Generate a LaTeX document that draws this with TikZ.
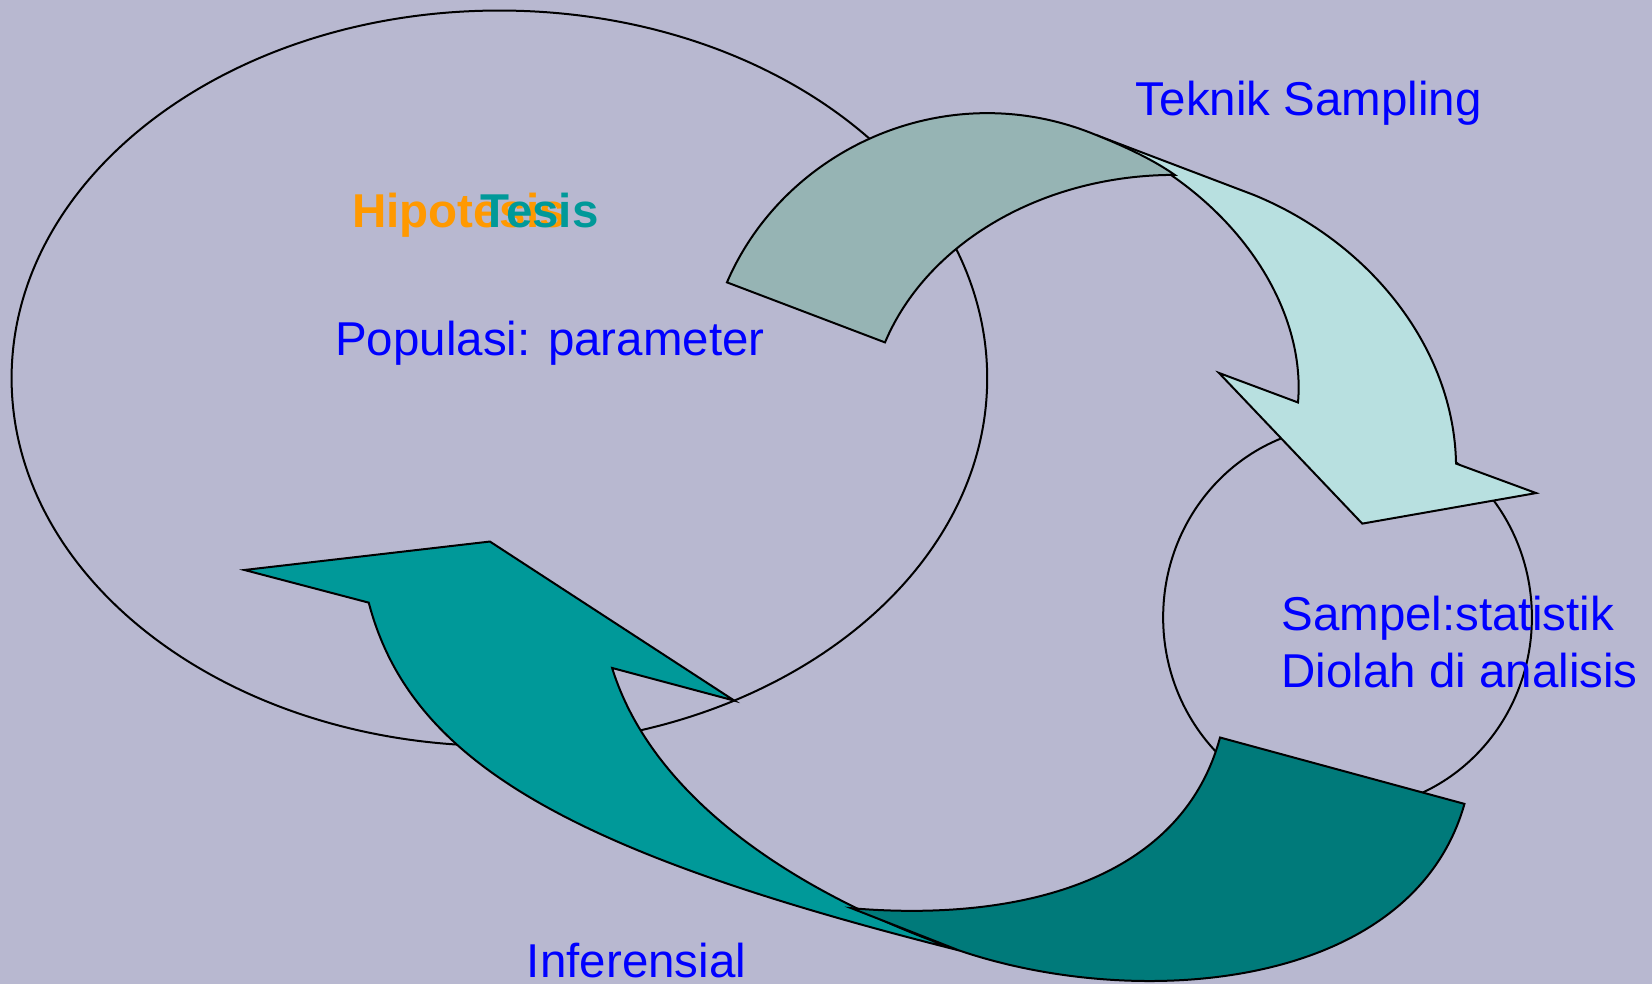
\documentclass[tikz,border=0pt]{standalone}
\usepackage{fontspec}
\setmainfont{Liberation Sans}
\definecolor{bg}{HTML}{B8B8D0}
\definecolor{grayA}{HTML}{96B4B4}
\definecolor{cyanA}{HTML}{B8E0E0}
\definecolor{tealA}{HTML}{009999}
\definecolor{tealB}{HTML}{007A7A}
\definecolor{orangeT}{HTML}{FF9900}
\definecolor{blueT}{HTML}{0000FF}
\tikzset{
  outline/.style={draw=black, line width=2pt},
  arrowshape/.style={draw=black, line width=2pt, line join=miter},
  lbl/.style={anchor=base west, inner sep=0pt, font=\fontsize{47.5}{57}\selectfont},
}
\begin{document}
\begin{tikzpicture}[x=1.0536pt,y=-1.0536pt]
\fill[bg] (0,0) rectangle (1568,934);
\useasboundingbox (0,0) rectangle (1568,934);
% ellipses
\draw[outline] (474,359) ellipse [x radius=463, y radius=349];
\draw[outline] (1279,586) ellipse [x radius=175, y radius=182];
% lower-left teal arrow
\draw[arrowshape, fill=tealA] (350,572) -- (232,541) -- (465,514) -- (697,665) -- (581,634)
  .. controls (620,760) and (760,850) .. (910,902)
  .. controls (545,810) and (390,725) .. cycle;
% lower-right dark teal band
\draw[arrowshape, fill=tealB] (1158,700) -- (1390,763)
  .. controls (1340,940) and (1080,960) .. (910,902)
  -- (808,862)
  .. controls (960,875) and (1120,840) .. cycle;
% light cyan arrow
\draw[arrowshape, fill=cyanA] (1040,128) -- (1190,185)
  .. controls (1300,230) and (1380,330) .. (1382,440)
  -- (1458,468) -- (1293,497) -- (1157,354) -- (1232,382)
  .. controls (1240,290) and (1170,180) .. cycle;
% gray band
\draw[arrowshape, fill=grayA] (690,268)
  .. controls (745,140) and (900,70) .. (1040,128)
  .. controls (1070,140) and (1095,152) .. (1115,166)
  .. controls (990,166) and (880,230) .. (840,325) -- cycle;
% texts
\node[lbl, text=blueT] (teknik) at (1078,110) {Teknik Sampling};
\node[lbl, text=orangeT, font=\fontsize{47.5}{57}\selectfont\bfseries] (hipotesis) at (334,216) {Hipotesis};
\node[lbl, text=tealA, font=\fontsize{47.5}{57}\selectfont\bfseries] (tesis) at (456,216) {Tesis};
\node[lbl, text=blueT] (populasi) at (318,337) {Populasi: parameter};
\node[lbl, text=blueT] (sampel) at (1216,598) {Sampel:statistik};
\node[lbl, text=blueT] (diolah) at (1216,653) {Diolah di analisis};
\node[lbl, text=blueT] (inferensial) at (500,928) {Inferensial};
\end{tikzpicture}
\end{document}
